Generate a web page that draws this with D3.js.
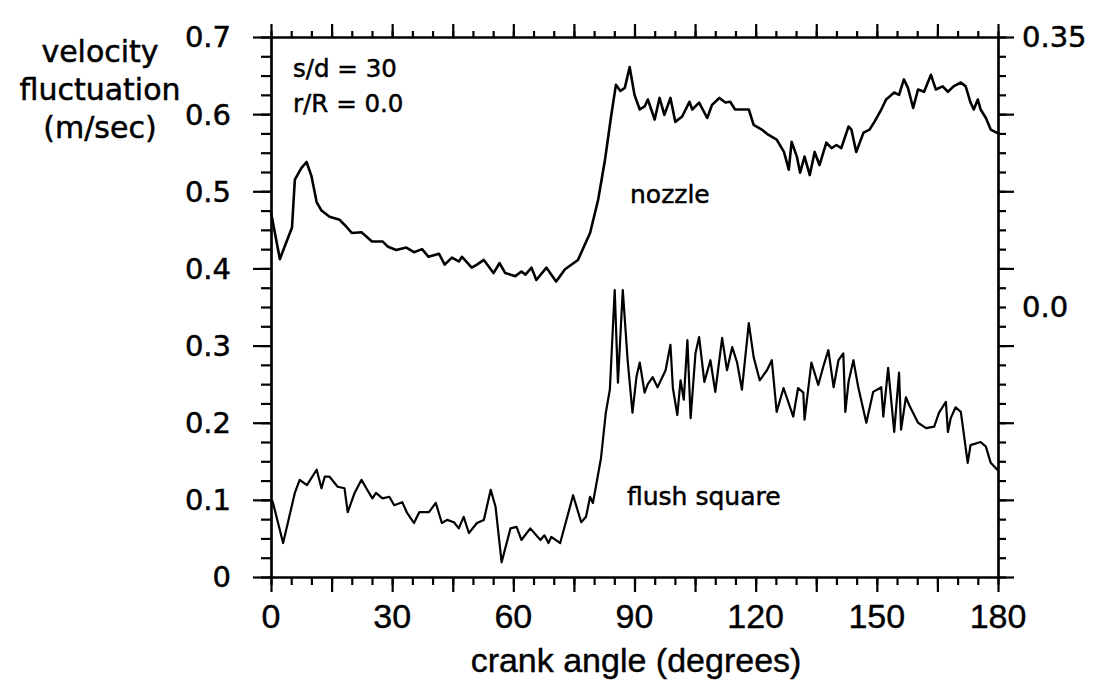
<!DOCTYPE html>
<html>
<head>
<meta charset="utf-8">
<script src="https://cdn.jsdelivr.net/npm/d3@7"></script>
<style>
  html, body { margin: 0; padding: 0; background: #fff; }
  svg { display: block; }
  .lbl { font-family: "DejaVu Sans", sans-serif; fill: #000; stroke: #000; stroke-width: 0.5px; }
  .xlbl { font-family: "Liberation Sans", Arial, sans-serif; fill: #000; stroke: #000; stroke-width: 0.4px; }
</style>
</head>
<body>
<div id="chart"></div>
<script>
// crank angle (deg) vs velocity fluctuation (m/sec)
const nozzle = [
  [0, 0.473], [1, 0.445], [2.2, 0.412], [3.5, 0.43], [5.2, 0.453], [5.9, 0.515], [7.5, 0.53],
  [8.8, 0.538], [10, 0.52], [11.3, 0.486], [12.5, 0.475], [14.5, 0.467], [17, 0.463], [18.5, 0.455],
  [20, 0.446], [22.4, 0.447], [25, 0.435], [27.6, 0.435], [29, 0.428], [31, 0.424], [33.5, 0.427],
  [35.4, 0.421], [37.4, 0.425], [39, 0.415], [41.6, 0.419], [43, 0.405], [44.8, 0.414], [46.5, 0.409],
  [47.3, 0.415], [49.7, 0.401], [51, 0.405], [52.7, 0.411], [55.1, 0.394], [56.6, 0.407], [58, 0.394],
  [60.5, 0.39], [62, 0.396], [63, 0.392], [64.5, 0.401], [65.7, 0.385], [68.2, 0.401], [70.6, 0.383],
  [72.8, 0.399], [76, 0.411], [79, 0.446], [81, 0.489], [82.7, 0.541], [84.2, 0.597], [85.4, 0.638],
  [86.5, 0.63], [87.6, 0.634], [88.8, 0.661], [90, 0.625], [91.3, 0.606], [92.5, 0.61], [93.3, 0.619],
  [95, 0.593], [96.2, 0.621], [97.4, 0.599], [98.9, 0.621], [100.1, 0.59], [101.8, 0.597], [103.6, 0.616],
  [104.3, 0.606], [106, 0.615], [108, 0.595], [109.2, 0.612], [111, 0.621], [112.5, 0.615], [113.7, 0.616],
  [114.9, 0.606], [117, 0.606], [118.3, 0.606], [119.5, 0.586], [121.5, 0.58], [123.2, 0.573], [125.2, 0.567],
  [127, 0.551], [128.2, 0.528], [128.9, 0.564], [130.2, 0.545], [131, 0.524], [132.1, 0.545], [133.4, 0.521],
  [134.6, 0.551], [135.8, 0.534], [137.5, 0.563], [138.8, 0.556], [140, 0.56], [141.2, 0.556], [143, 0.584],
  [143.7, 0.58], [144.9, 0.551], [146.7, 0.576], [148.2, 0.58], [149.4, 0.59], [151.1, 0.606], [152.3, 0.619],
  [154.3, 0.628], [155.5, 0.625], [156.7, 0.645], [157.7, 0.634], [159, 0.608], [160.2, 0.632], [161.7, 0.629],
  [163.4, 0.651], [164.6, 0.632], [166.3, 0.636], [167.6, 0.629], [169, 0.636], [170.8, 0.641], [172, 0.636],
  [173.2, 0.615], [174, 0.606], [175, 0.619], [175.7, 0.606], [177, 0.595], [178.2, 0.58], [180, 0.575]
];

const flush = [
  [0.2, 0.1], [0.5, 0.096], [3, 0.044], [5.9, 0.109], [7.1, 0.126], [8.9, 0.119], [11.3, 0.139],
  [12.5, 0.115], [13.3, 0.13], [14.5, 0.13], [16.5, 0.117], [18.2, 0.115], [19, 0.084], [20.7, 0.109],
  [22.4, 0.126], [23.6, 0.115], [25.1, 0.102], [26, 0.109], [27.6, 0.102], [29.3, 0.104], [30.5, 0.093],
  [32.5, 0.097], [33.7, 0.083], [35.4, 0.07], [36.7, 0.084], [39.1, 0.084], [40.8, 0.096], [42.3, 0.07],
  [43.6, 0.074], [45.3, 0.071], [46.5, 0.063], [47.7, 0.078], [49, 0.057], [51, 0.07], [52.7, 0.074],
  [54.4, 0.113], [55.6, 0.091], [57.1, 0.019], [59.3, 0.063], [60.8, 0.065], [62, 0.048], [64.2, 0.063],
  [66.7, 0.048], [67.7, 0.054], [68.7, 0.044], [69.4, 0.052], [71.6, 0.044], [74.8, 0.106], [76.8, 0.071],
  [78, 0.078], [79, 0.104], [79.7, 0.096], [80.5, 0.119], [81.7, 0.154], [82.9, 0.213], [83.9, 0.243],
  [85.1, 0.372], [85.9, 0.252], [87.1, 0.372], [88.3, 0.281], [89.5, 0.213], [90.5, 0.26], [91.3, 0.278],
  [92.5, 0.239], [93.3, 0.25], [94.5, 0.259], [95.7, 0.246], [97.7, 0.268], [98.9, 0.301], [99.5, 0.245],
  [100.6, 0.21], [101.4, 0.255], [102.2, 0.23], [103.1, 0.307], [103.9, 0.206], [105.1, 0.29], [106, 0.311],
  [107.3, 0.253], [108.8, 0.281], [110, 0.24], [111.7, 0.31], [112.9, 0.268], [114.2, 0.298], [115.4, 0.278],
  [116.6, 0.243], [118.3, 0.329], [119.5, 0.285], [121, 0.255], [122.8, 0.268], [124, 0.281], [125.2, 0.214],
  [126.9, 0.245], [129.3, 0.208], [130.5, 0.245], [131.8, 0.239], [132.1, 0.204], [133.8, 0.278], [135.5, 0.249],
  [136.7, 0.272], [138, 0.294], [139.3, 0.246], [140.5, 0.281], [141.7, 0.29], [142.2, 0.214], [143, 0.253],
  [144.2, 0.281], [145.4, 0.246], [147.4, 0.2], [149.1, 0.24], [151.1, 0.246], [151.6, 0.208], [152.8, 0.271],
  [154.3, 0.188], [155.5, 0.265], [156, 0.191], [157.2, 0.233], [158, 0.223], [160.2, 0.2], [162.2, 0.193],
  [164.2, 0.195], [165.4, 0.213], [167.1, 0.227], [167.6, 0.188], [168.3, 0.206], [169.5, 0.22], [170.8, 0.214],
  [172.5, 0.148], [173.2, 0.171], [175.7, 0.175], [177, 0.169], [178.2, 0.148], [180, 0.138]
];

const xLabelTicks = [0, 30, 60, 90, 120, 150, 180];
const yLabelTicks = [0, 0.1, 0.2, 0.3, 0.4, 0.5, 0.6, 0.7];
const yTickLabels = ['0', '0.1', '0.2', '0.3', '0.4', '0.5', '0.6', '0.7'];
const rightLabelTicks = [0.35, 0];
const rightTickLabels = ['0.35', '0.0'];
const yTitle = ['velocity', 'fluctuation', '(m/sec)'];
const notes = ['s/d = 30', 'r/R = 0.0'];

const W = 1096, H = 688;
const svg = d3.select('#chart').append('svg').attr('width', W).attr('height', H);

const x = d3.scaleLinear().domain([0, 180]).range([271, 998]);
const y = d3.scaleLinear().domain([0, 0.7]).range([577, 37]);
const yR = d3.scaleLinear().domain([-0.35, 0.35]).range([577, 37]);

const xMinor = d3.range(0, 181, 5);
const xMajor = d3.range(0, 181, 15);
const yMinor = d3.range(0, 0.7001, 0.025);
const yMajor = d3.range(0, 0.7001, 0.1);
const rMajor = d3.range(-0.35, 0.3501, 0.1);

function styleAxis(g) {
  g.selectAll('path, line').attr('stroke', '#000').attr('stroke-width', 2.2);
  g.selectAll('text').remove();
}

// ticks
svg.append('g').attr('transform', 'translate(271,0)')
  .call(d3.axisLeft(y).tickValues(yMinor).tickSize(10).tickSizeOuter(0)).call(styleAxis);
svg.append('g').attr('transform', 'translate(271,0)')
  .call(d3.axisLeft(y).tickValues(yMajor).tickSize(18).tickSizeOuter(0)).call(styleAxis);
svg.append('g').attr('transform', 'translate(998,0)')
  .call(d3.axisRight(yR).tickValues(yMinor.map(v => v - 0.35)).tickSize(8).tickSizeOuter(0)).call(styleAxis);
svg.append('g').attr('transform', 'translate(998,0)')
  .call(d3.axisRight(yR).tickValues(rMajor).tickSize(16).tickSizeOuter(0)).call(styleAxis);
svg.append('g').attr('transform', 'translate(0,577)')
  .call(d3.axisBottom(x).tickValues(xMinor).tickSize(8).tickSizeOuter(0)).call(styleAxis);
svg.append('g').attr('transform', 'translate(0,577)')
  .call(d3.axisBottom(x).tickValues(xMajor).tickSize(15).tickSizeOuter(0)).call(styleAxis);
svg.append('g').attr('transform', 'translate(0,37)')
  .call(d3.axisTop(x).tickValues(xMinor).tickSize(6).tickSizeOuter(0)).call(styleAxis);
svg.append('g').attr('transform', 'translate(0,37)')
  .call(d3.axisTop(x).tickValues(xMajor).tickSize(13).tickSizeOuter(0)).call(styleAxis);

// tick labels
svg.append('g').selectAll('text').data(yLabelTicks).join('text')
  .attr('class', 'lbl').attr('font-size', 29).attr('text-anchor', 'end')
  .attr('x', 231).attr('y', d => y(d)).attr('dy', '0.36em')
  .text((d, i) => yTickLabels[i]);

svg.append('g').selectAll('text').data(rightLabelTicks).join('text')
  .attr('class', 'lbl').attr('font-size', 29).attr('text-anchor', 'start')
  .attr('x', 1022).attr('y', d => yR(d)).attr('dy', '0.36em')
  .text((d, i) => rightTickLabels[i]);

svg.append('g').selectAll('text').data(xLabelTicks).join('text')
  .attr('class', 'xlbl').attr('font-size', 34).attr('text-anchor', 'middle')
  .attr('x', d => x(d)).attr('y', 628)
  .text(d => d);

svg.append('text').attr('class', 'xlbl').attr('font-size', 34).attr('text-anchor', 'middle')
  .attr('x', 636).attr('y', 672).text('crank angle (degrees)');

svg.append('g').selectAll('text').data(yTitle).join('text')
  .attr('class', 'lbl').attr('font-size', 30).attr('text-anchor', 'middle')
  .attr('x', 100).attr('y', (d, i) => 62 + i * 38)
  .text(d => d);

svg.append('g').selectAll('text').data(notes).join('text')
  .attr('class', 'lbl').attr('font-size', 24.5)
  .attr('x', 293).attr('y', (d, i) => 77 + i * 35)
  .text(d => d);

svg.append('text').attr('class', 'lbl').attr('font-size', 25)
  .attr('x', 630).attr('y', 203).text('nozzle');
svg.append('text').attr('class', 'lbl').attr('font-size', 25)
  .attr('x', 627).attr('y', 505).text('flush square');

// curves
const line = d3.line().x(d => x(d[0])).y(d => y(d[1]));
svg.append('path').datum(nozzle).attr('d', line)
  .attr('fill', 'none').attr('stroke', '#000').attr('stroke-width', 2.6).attr('stroke-linejoin', 'round');
svg.append('path').datum(flush).attr('d', line)
  .attr('fill', 'none').attr('stroke', '#000').attr('stroke-width', 2.2).attr('stroke-linejoin', 'round');
</script>
</body>
</html>
